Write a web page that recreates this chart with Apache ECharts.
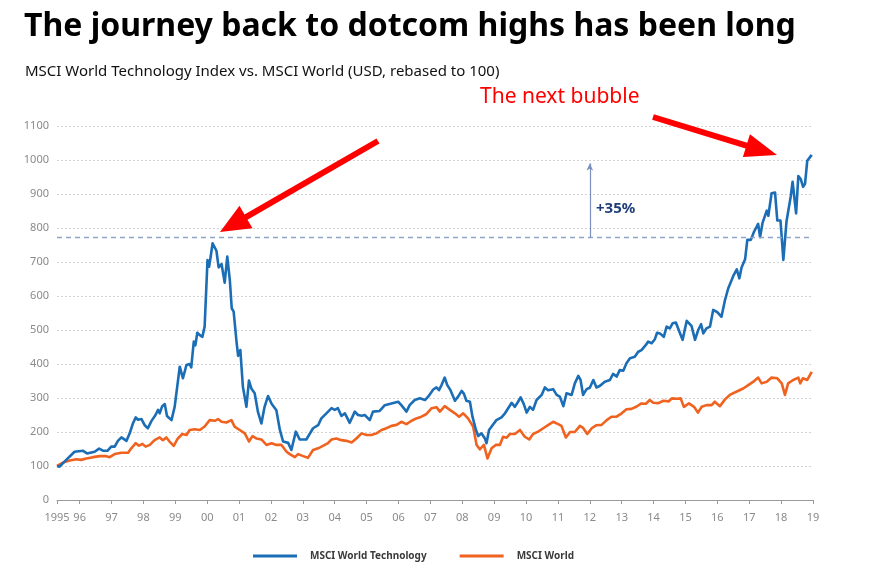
<!DOCTYPE html>
<html>
<head>
<meta charset="utf-8">
<script src="https://cdn.jsdelivr.net/npm/echarts@6/dist/echarts.min.js"></script>
<style>
html,body{margin:0;padding:0;background:#ffffff;}
#chart{width:873px;height:571px;}
</style>
</head>
<body>
<div id="chart"></div>
<script>
// ---- Data (decimal years, index rebased to 100) ----
const techYears = [1995.29,1995.37,1995.58,1995.84,1996.10,1996.23,1996.47,1996.61,1996.73,1996.88,1996.99,1997.10,1997.20,1997.31,1997.47,1997.57,1997.67,1997.76,1997.83,1997.94,1998.04,1998.14,1998.25,1998.38,1998.46,1998.51,1998.59,1998.67,1998.74,1998.88,1998.98,1999.14,1999.24,1999.35,1999.45,1999.50,1999.58,1999.63,1999.69,1999.77,1999.85,1999.92,2000.01,2000.06,2000.11,2000.17,2000.29,2000.36,2000.45,2000.50,2000.55,2000.63,2000.71,2000.77,2000.83,2000.92,2000.97,2001.04,2001.12,2001.23,2001.31,2001.39,2001.49,2001.59,2001.70,2001.80,2001.91,2002.02,2002.17,2002.28,2002.38,2002.54,2002.64,2002.78,2002.90,2003.11,2003.32,2003.48,2003.58,2003.74,2003.90,2004.00,2004.10,2004.21,2004.32,2004.47,2004.63,2004.73,2004.85,2004.94,2005.10,2005.20,2005.41,2005.57,2005.78,2005.99,2006.09,2006.25,2006.35,2006.51,2006.67,2006.83,2006.93,2007.09,2007.19,2007.27,2007.35,2007.45,2007.53,2007.63,2007.77,2007.87,2007.98,2008.05,2008.13,2008.24,2008.32,2008.43,2008.50,2008.60,2008.71,2008.76,2008.84,2008.95,2009.07,2009.23,2009.34,2009.44,2009.55,2009.65,2009.75,2009.83,2009.93,2010.02,2010.12,2010.22,2010.33,2010.49,2010.59,2010.69,2010.85,2010.96,2011.06,2011.17,2011.27,2011.43,2011.53,2011.64,2011.71,2011.79,2011.90,2012.00,2012.11,2012.21,2012.32,2012.47,2012.63,2012.73,2012.84,2012.94,2013.05,2013.15,2013.26,2013.41,2013.52,2013.62,2013.76,2013.83,2013.94,2014.04,2014.11,2014.20,2014.32,2014.41,2014.51,2014.60,2014.70,2014.81,2014.91,2015.04,2015.19,2015.30,2015.40,2015.49,2015.56,2015.66,2015.77,2015.87,2015.99,2016.13,2016.24,2016.34,2016.50,2016.61,2016.69,2016.76,2016.87,2016.94,2017.05,2017.15,2017.28,2017.34,2017.42,2017.55,2017.60,2017.70,2017.81,2017.88,2017.98,2018.07,2018.17,2018.30,2018.36,2018.47,2018.54,2018.61,2018.69,2018.75,2018.82,2018.96];
const techValues = [100,98,118,142,145,137,142,151,145,145,157,157,174,184,174,196,225,243,236,238,220,211,232,250,265,255,276,282,247,235,274,392,358,397,400,390,466,455,492,485,480,510,706,686,716,755,733,684,694,690,639,716,647,564,554,466,424,441,333,274,351,327,314,260,225,274,306,283,264,206,172,168,147,201,178,178,211,220,240,255,270,265,270,247,255,227,260,250,248,250,235,260,262,279,284,289,279,260,279,294,299,294,304,325,331,323,338,360,338,323,292,304,321,313,292,289,245,206,188,196,181,167,206,220,235,243,255,270,286,274,289,302,282,257,274,265,294,309,331,323,326,309,304,276,314,309,343,365,353,309,326,330,353,331,336,348,353,371,363,382,380,402,417,421,436,441,456,466,461,473,492,490,480,510,505,520,522,495,471,527,512,471,500,517,490,505,510,559,553,539,588,622,659,678,652,684,708,765,765,789,812,773,816,851,836,902,904,822,822,706,820,892,936,843,953,945,921,930,998,1015];

const worldYears = [1995.29,1995.48,1995.69,1995.90,1996.05,1996.21,1996.42,1996.63,1996.84,1996.94,1997.10,1997.31,1997.52,1997.62,1997.76,1997.86,1997.97,1998.07,1998.20,1998.35,1998.51,1998.61,1998.72,1998.82,1998.95,1999.08,1999.22,1999.35,1999.45,1999.61,1999.77,1999.92,2000.08,2000.24,2000.34,2000.45,2000.60,2000.76,2000.86,2001.02,2001.18,2001.31,2001.42,2001.54,2001.70,2001.86,2002.02,2002.17,2002.33,2002.49,2002.59,2002.75,2002.85,2003.01,2003.16,2003.32,2003.48,2003.63,2003.79,2003.90,2004.05,2004.21,2004.37,2004.53,2004.68,2004.84,2005.00,2005.15,2005.31,2005.47,2005.62,2005.78,2005.94,2006.09,2006.25,2006.41,2006.56,2006.72,2006.88,2007.04,2007.19,2007.30,2007.45,2007.61,2007.77,2007.90,2008.03,2008.18,2008.34,2008.45,2008.55,2008.68,2008.79,2008.92,2009.05,2009.18,2009.28,2009.39,2009.49,2009.65,2009.81,2009.96,2010.10,2010.22,2010.38,2010.54,2010.69,2010.85,2011.01,2011.11,2011.25,2011.38,2011.53,2011.69,2011.79,2011.92,2012.06,2012.21,2012.37,2012.53,2012.68,2012.84,2013.00,2013.15,2013.31,2013.47,2013.62,2013.76,2013.88,2013.99,2014.15,2014.31,2014.47,2014.58,2014.74,2014.85,2014.95,2015.11,2015.27,2015.39,2015.51,2015.66,2015.82,2015.92,2016.08,2016.24,2016.39,2016.61,2016.81,2016.97,2017.13,2017.28,2017.39,2017.55,2017.70,2017.88,2018.02,2018.12,2018.22,2018.38,2018.54,2018.60,2018.68,2018.82,2018.96];
const worldValues = [100,110,116,120,118,122,126,129,129,126,135,139,139,152,167,160,165,157,162,176,184,176,184,172,159,181,194,191,206,208,206,216,235,233,238,230,228,235,216,206,196,172,188,181,178,162,167,162,162,142,135,126,135,129,124,147,152,159,167,178,181,176,174,169,181,196,191,191,196,206,211,218,221,230,223,233,240,245,253,270,273,260,276,265,255,245,255,240,216,162,149,162,122,152,162,162,186,183,194,194,206,186,178,194,201,211,220,230,223,218,184,200,200,218,212,194,211,220,221,235,245,245,255,267,268,275,284,283,294,286,285,292,290,299,298,299,274,284,274,257,274,279,279,289,276,296,309,319,328,338,348,360,343,348,360,358,343,309,343,353,360,343,358,353,377];

const yearTicks = [1995.29,1996,1997,1998,1999,2000,2001,2002,2003,2004,2005,2006,2007,2008,2009,2010,2011,2012,2013,2014,2015,2016,2017,2018,2019];
const yearLabels = ['1995','96','97','98','99','00','01','02','03','04','05','06','07','08','09','10','11','12','13','14','15','16','17','18','19'];

const seriesNames = ['MSCI World Technology', 'MSCI World'];
const dotcomPeakLevel = 773;      // dashed reference level
const rallyTarget = 990;          // top of "+35%" arrow
const rallyArrowYear = 2012.0;

// ---- Build ----
const zip = (xs, ys) => xs.map((x, i) => [x, ys[i]]);
const FONT = '"Noto Sans", "Open Sans", sans-serif';

function arrowPolygon(x1, y1, x2, y2, headLen, headHalf, shaftW) {
  const dx = x2 - x1, dy = y2 - y1, L = Math.hypot(dx, dy);
  const ux = dx / L, uy = dy / L, nx = -uy, ny = ux;
  const bx = x2 - ux * headLen, by = y2 - uy * headLen;
  const s = shaftW / 2;
  return [
    [x1 + nx * s, y1 + ny * s],
    [bx + nx * s, by + ny * s],
    [bx + nx * headHalf, by + ny * headHalf],
    [x2, y2],
    [bx - nx * headHalf, by - ny * headHalf],
    [bx - nx * s, by - ny * s],
    [x1 - nx * s, y1 - ny * s]
  ];
}

const chart = echarts.init(document.getElementById('chart'), null, { renderer: 'canvas' });

chart.setOption({
  animation: false,
  backgroundColor: '#ffffff',
  textStyle: { fontFamily: FONT },
  title: [
    {
      text: 'The journey back to dotcom highs has been long',
      left: 19, top: 6,
      textStyle: { fontFamily: FONT, fontSize: 32, fontWeight: 'bold', color: '#000000' }
    },
    {
      text: 'MSCI World Technology Index vs. MSCI World (USD, rebased to 100)',
      left: 20, top: 59,
      textStyle: { fontFamily: FONT, fontSize: 15, fontWeight: 'normal', color: '#111111' }
    }
  ],
  legend: {
    data: seriesNames,
    left: 248, top: 546,
    icon: 'rect',
    itemWidth: 44, itemHeight: 3,
    itemGap: 33,
    textStyle: { fontFamily: FONT, fontSize: 10, fontWeight: 'bold', color: '#3a3a3a', padding: [0, 0, 0, 8] }
  },
  grid: { left: 57, right: 60, top: 126, bottom: 71, containLabel: false },
  xAxis: {
    type: 'value',
    min: 1995.29, max: 2019,
    splitLine: { show: false },
    axisLine: { show: true, lineStyle: { color: '#9a9a9a', width: 1 } },
    axisTick: { show: true, length: 4, lineStyle: { color: '#9a9a9a' }, customValues: yearTicks },
    axisLabel: {
      customValues: yearTicks,
      color: '#8a8a8a', fontSize: 11, fontFamily: FONT, margin: 12,
      formatter: function (v) {
        for (let i = 0; i < yearTicks.length; i++) {
          if (Math.abs(yearTicks[i] - v) < 0.01) return yearLabels[i];
        }
        return '';
      }
    }
  },
  yAxis: {
    type: 'value',
    min: 0, max: 1100, interval: 100,
    axisLine: { show: false },
    axisTick: { show: false },
    axisLabel: { color: '#8a8a8a', fontSize: 11, fontFamily: FONT, margin: 8, formatter: function (v) { return String(v); } },
    splitLine: { show: true, lineStyle: { color: '#d2d2d2', type: [2, 2], width: 1 } }
  },
  series: [
    {
      name: seriesNames[0],
      type: 'line',
      data: zip(techYears, techValues),
      showSymbol: false,
      symbol: 'none',
      z: 4,
      lineStyle: { color: '#1b6db6', width: 2.6, join: 'round' },
      itemStyle: { color: '#1b6db6' },
      markLine: {
        silent: true,
        symbol: ['none', 'none'],
        label: { show: false },
        lineStyle: { color: '#8fa2c8', type: [5, 4], width: 1.3 },
        data: [{ yAxis: dotcomPeakLevel }]
      }
    },
    {
      name: seriesNames[1],
      type: 'line',
      data: zip(worldYears, worldValues),
      showSymbol: false,
      symbol: 'none',
      z: 3,
      lineStyle: { color: '#f0621f', width: 2.6, join: 'round' },
      itemStyle: { color: '#f0621f' },
      markLine: {
        silent: true,
        symbol: ['none', 'arrow'],
        symbolSize: [5, 7],
        label: { show: false },
        lineStyle: { color: '#7a8fbd', type: 'solid', width: 1.2 },
        data: [[{ coord: [rallyArrowYear, dotcomPeakLevel] }, { coord: [rallyArrowYear, rallyTarget] }]]
      }
    }
  ],
  graphic: [
    {
      type: 'text', left: 480, top: 87, z: 10,
      style: { text: 'The next bubble', fill: '#ff0000', font: '21px ' + FONT }
    },
    {
      type: 'text', left: 596, top: 201, z: 10,
      style: { text: '+35%', fill: '#1f3d7a', font: 'bold 15px ' + FONT }
    },
    {
      type: 'polygon', z: 10,
      shape: { points: arrowPolygon(378, 141, 220, 232, 30, 13, 6) },
      style: { fill: '#ff0000' }
    },
    {
      type: 'polygon', z: 10,
      shape: { points: arrowPolygon(653, 117, 777, 155, 32, 12, 6) },
      style: { fill: '#ff0000' }
    }
  ]
});
</script>
</body>
</html>
